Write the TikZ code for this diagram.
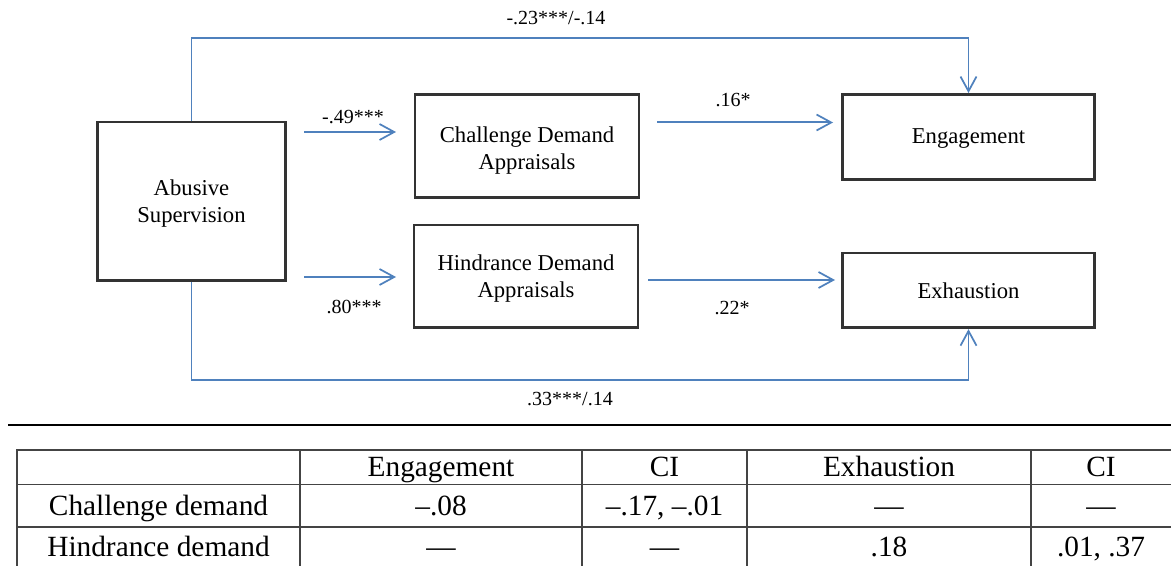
\documentclass[tikz,border=0pt]{standalone}
\usepackage{fontspec}
\setmainfont{Liberation Serif}
\usetikzlibrary{arrows.meta}
\definecolor{linkblue}{HTML}{4F81BD}
\definecolor{boxgray}{HTML}{333333}
\definecolor{rulegray}{HTML}{444444}
\newcommand\lowered[2][1.5pt]{\raisebox{-#1}[\height][\depth]{#2}}
\tikzset{
	var/.style={draw=boxgray, line width=2pt, align=center, inner sep=0pt, font=\fontsize{17}{20}\selectfont},
	link/.style={draw=linkblue, line width=1.5pt, -{Straight Barb[length=11pt, width=12pt, line width=1.3pt]}},
	longlink/.style={link, line width=1pt},
	coef/.style={inner sep=0pt, font=\fontsize{15}{18}\selectfont},
	cell/.style={inner sep=0pt, text height=0.66em, text depth=0pt, font=\fontsize{22}{24}\selectfont},
	tabline/.style={draw=rulegray, line width=1pt}
}
\begin{document}
\begin{tikzpicture}[x=0.75pt, y=-0.75pt]
	\useasboundingbox (0, 0) rectangle (1171, 566);
	\node[var, minimum width=141pt, minimum height=119pt] (abuse) at (191.5, 201.5) {\lowered{Abusive}\\\lowered{Supervision}};
	\node[var, minimum width=168pt, minimum height=77pt] (chall) at (527, 146) {\lowered[3.5pt]{Challenge Demand}\\\lowered[3.5pt]{Appraisals}};
	\node[var, minimum width=168pt, minimum height=77pt] (hind) at (526, 276.5) {\lowered{Hindrance Demand}\\\lowered{Appraisals}};
	\node[var, minimum width=189pt, minimum height=64pt] (engage) at (968.5, 137) {\lowered{Engagement}};
	\node[var, minimum width=189pt, minimum height=56pt] (exhaust) at (968.5, 290.5) {Exhaustion};
	\coordinate (topy) at (0, 38);
	\coordinate (boty) at (0, 380);
	\coordinate (ca) at (304, 132);
	\coordinate (cb) at (396, 132);
	\coordinate (ha) at (304, 277);
	\coordinate (hb) at (396, 277);
	\coordinate (ea) at (657, 122.5);
	\coordinate (eb) at (833, 122.5);
	\coordinate (xa) at (648, 280);
	\coordinate (xb) at (835, 280);
	\draw[longlink] (abuse.north) |- (engage.north |- topy) -- (engage.north);
	\draw[longlink] (abuse.south) |- (exhaust.south |- boty) -- (exhaust.south);
	\draw[link] (ca) -- (cb);
	\draw[link] (ha) -- (hb);
	\draw[link] (ea) -- (eb);
	\draw[link] (xa) -- (xb);
	\node[coef] (c1) at (556, 18) {-.23***/-.14};
	\node[coef] (c2) at (570, 399) {.33***/.14};
	\node[coef] (c3) at (353, 117) {-.49***};
	\node[coef] (c4) at (354, 307) {.80***};
	\node[coef] (c5) at (733, 100) {.16*};
	\node[coef] (c6) at (732, 308) {.22*};
	\draw[line width=1.5pt] (8, 425) -- (1171, 425);
	\draw[tabline] (17, 566) |- (1171, 450);
	\draw[tabline] (17, 484.5) -- (1171, 484.5);
	\draw[tabline] (17, 527) -- (1171, 527);
	\foreach \x in {300, 582, 747, 1031}
		\draw[tabline] (\x, 450) -- (\x, 566);
	\node[cell] (h1) at (441, 472.5) {Engagement};
	\node[cell] (h2) at (664.5, 472.5) {CI};
	\node[cell] (h3) at (889, 472.5) {Exhaustion};
	\node[cell] (h4) at (1101, 472.5) {CI};
	\node[cell] (r1) at (158.5, 511) {Challenge demand};
	\node[cell] (r1a) at (441, 511) {–.08};
	\node[cell] (r1b) at (664.5, 511) {–.17, –.01};
	\node[cell] (r1c) at (889, 511) {—};
	\node[cell] (r1d) at (1101, 511) {—};
	\node[cell] (r2) at (158.5, 552) {Hindrance demand};
	\node[cell] (r2a) at (441, 552) {—};
	\node[cell] (r2b) at (664.5, 552) {—};
	\node[cell] (r2c) at (889, 552) {.18};
	\node[cell] (r2d) at (1101, 552) {.01, .37};
\end{tikzpicture}
\end{document}
